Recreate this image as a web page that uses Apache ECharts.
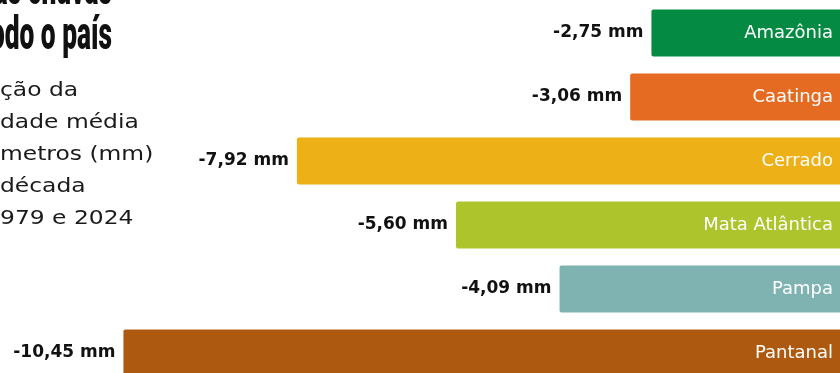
<!DOCTYPE html>
<html>
<head>
<meta charset="utf-8">
<script src="https://cdn.jsdelivr.net/npm/echarts@6/dist/echarts.min.js"></script>
<style>
  html, body { margin: 0; padding: 0; background: #fff; }
  #chart { width: 840px; height: 373px; }
</style>
</head>
<body>
<div id="chart"></div>
<script>
// biomas, de cima para baixo
var biomes = ['Amazônia', 'Caatinga', 'Cerrado', 'Mata Atlântica', 'Pampa', 'Pantanal'];
// variação por década (mm)
var changes = [-2.75, -3.06, -7.92, -5.60, -4.09, -10.45];
var barColors = ['#048a42', '#e66b22', '#eeb017', '#adc42c', '#7fb3b1', '#ad5a10'];

var titleLines = ['das chuvas', 'todo o país'];
var subtitleLines = ['ção da', 'dade média', 'metros (mm)', 'década', '979 e 2024'];

var chart = echarts.init(document.getElementById('chart'), null, { renderer: 'canvas' });

function fmt(v) {
  return v.toFixed(2).replace('.', ',') + ' mm';
}

var graphics = [];
// título (cortado no topo)
graphics.push({
  type: 'text', x: 112, y: -8, scaleX: 0.56,
  style: { text: titleLines[0], font: '900 47px Roboto', fill: '#111', align: 'right', verticalAlign: 'middle' }
});
graphics.push({
  type: 'text', x: 112, y: 37, scaleX: 0.56,
  style: { text: titleLines[1], font: '900 47px Roboto', fill: '#111', align: 'right', verticalAlign: 'middle' }
});
subtitleLines.forEach(function (t, i) {
  graphics.push({
    type: 'text', x: 0, y: 91 + i * 32, scaleX: 1.17,
    style: { text: t, font: '20px "DejaVu Sans"', fill: '#1a1a1a', align: 'left', verticalAlign: 'middle' }
  });
});

var option = {
  animation: false,
  grid: { left: 0, right: 0, top: 1, height: 384, outerBoundsMode: 'none', containLabel: false },
  xAxis: {
    type: 'value',
    min: -12.25,
    max: 0,
    show: false
  },
  yAxis: {
    type: 'category',
    data: biomes,
    inverse: true,
    position: 'right',
    z: 10,
    axisLine: { show: false },
    axisTick: { show: false },
    axisLabel: {
      inside: true,
      margin: 7,
      color: '#fff',
      fontFamily: 'DejaVu Sans',
      fontSize: 18
    }
  },
  series: [{
    type: 'bar',
    barCategoryGap: '26.5%',
    data: changes.map(function (v, i) {
      return { value: v, itemStyle: { color: barColors[i] } };
    }),
    itemStyle: { borderRadius: [2, 0, 0, 2] },
    label: {
      show: true,
      position: 'left',
      distance: 8,
      color: '#111',
      fontFamily: 'DejaVu Sans',
      fontWeight: 'bold',
      fontSize: 17,
      formatter: function (p) { return fmt(p.value); }
    }
  }],
  graphic: graphics
};

chart.setOption(option);
</script>
</body>
</html>
